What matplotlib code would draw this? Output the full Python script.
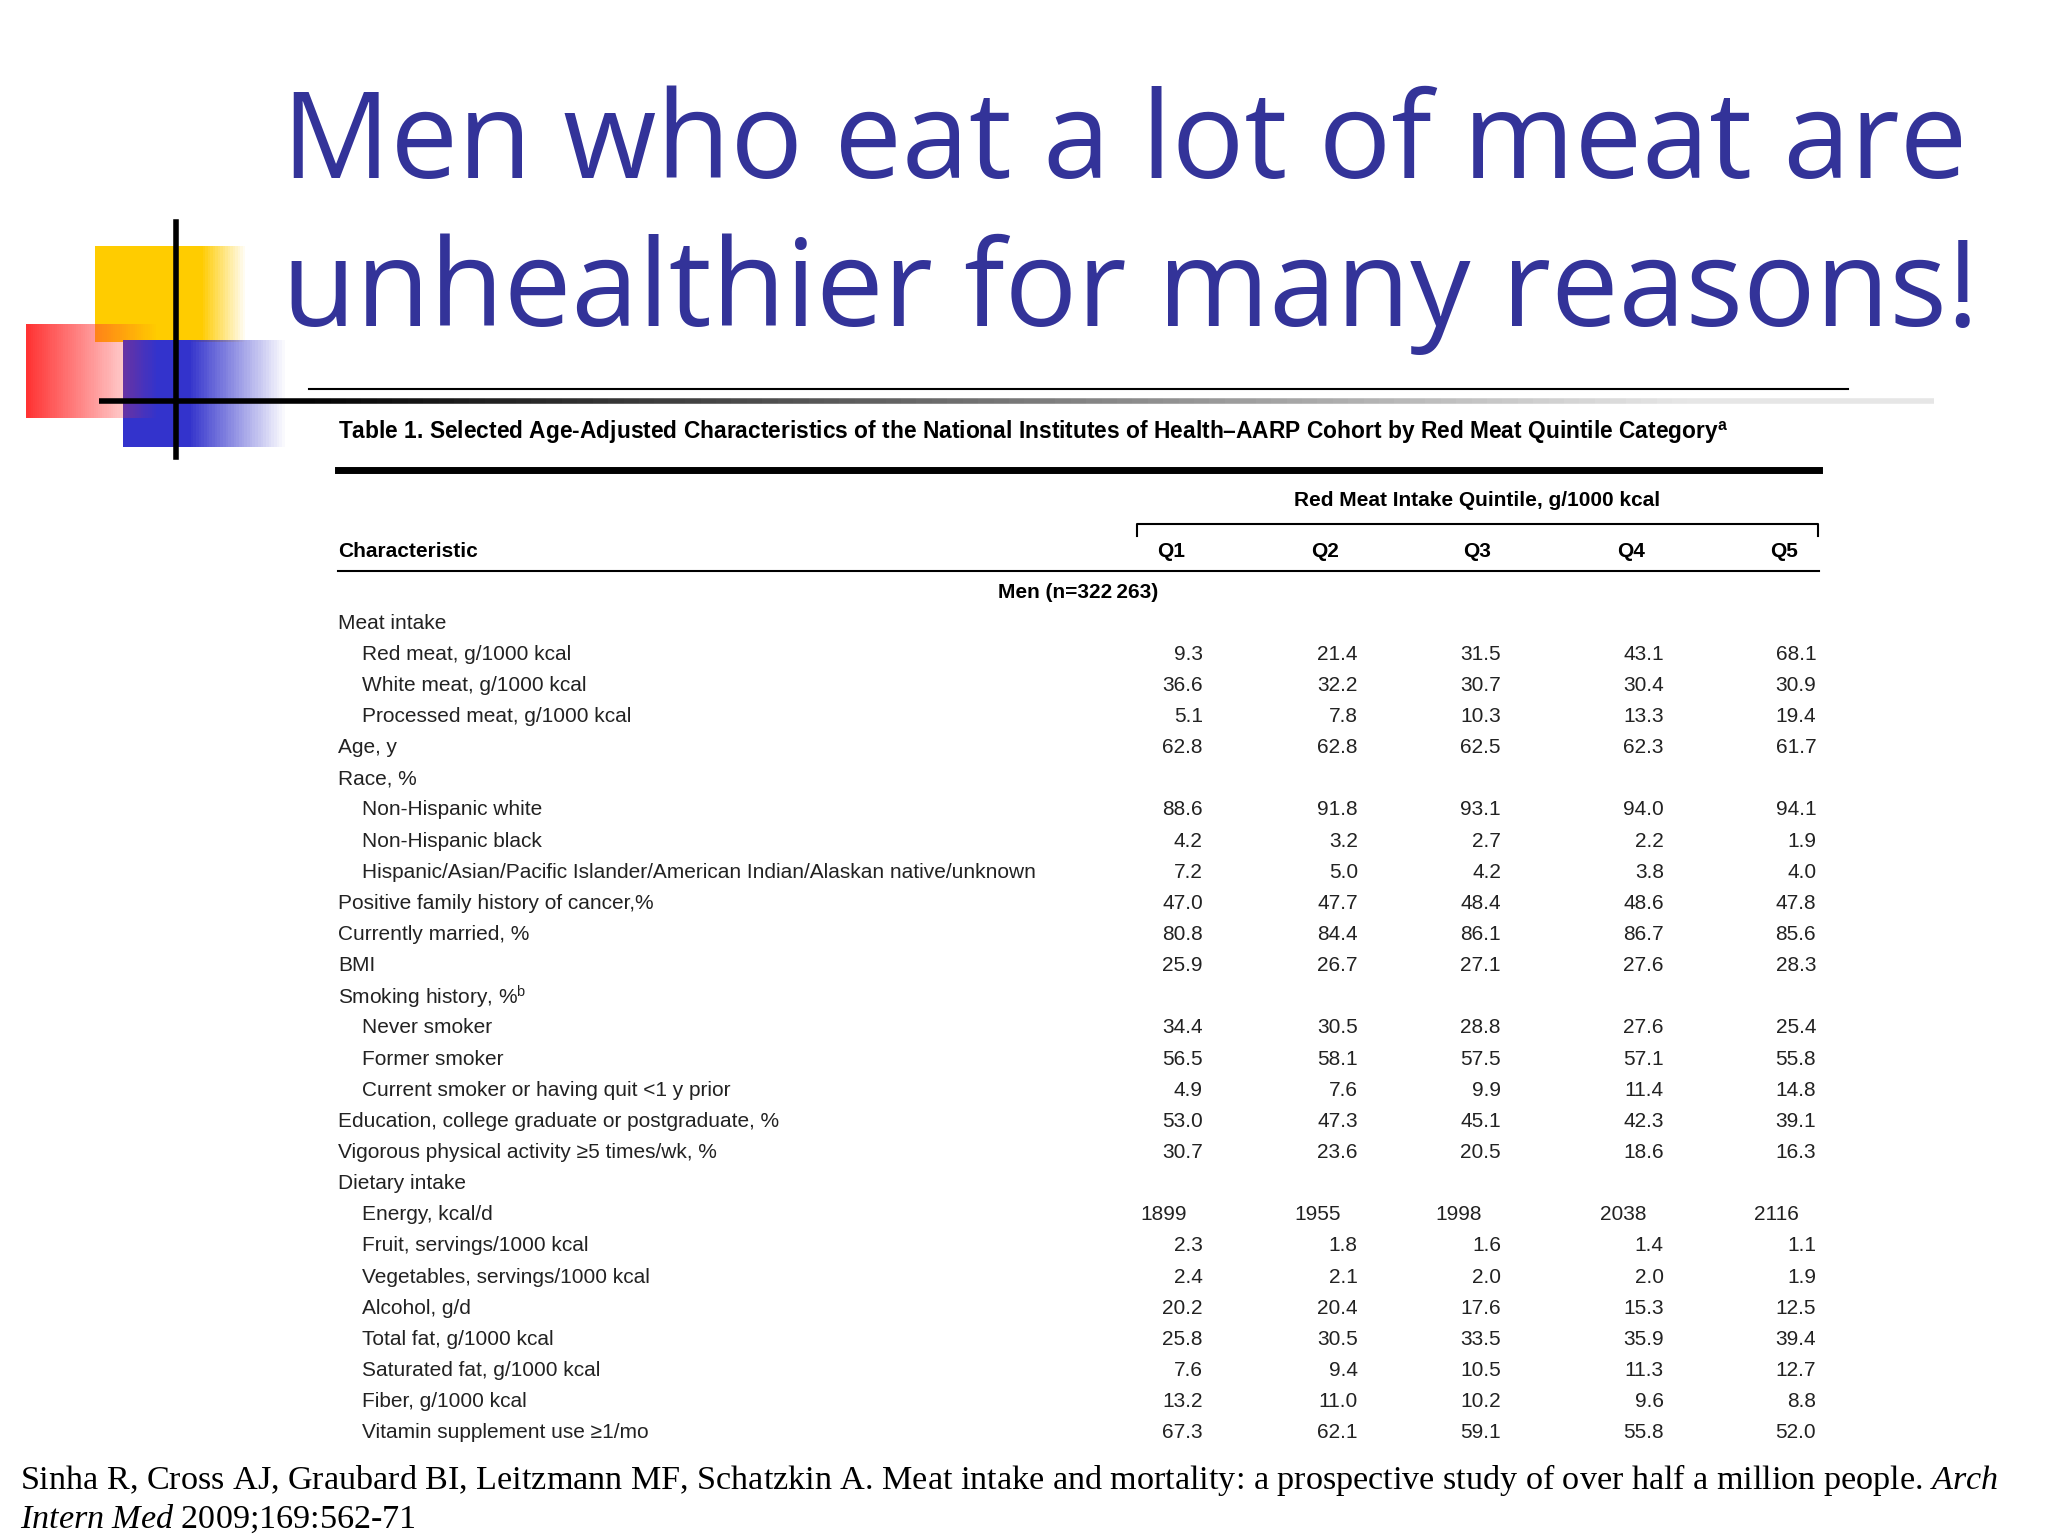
import matplotlib.pyplot as plt
import numpy as np
from matplotlib.patches import Rectangle

# data
row_labels = ['Meat intake', 'Red meat, g/1000 kcal', 'White meat, g/1000 kcal', 'Processed meat, g/1000 kcal',
              'Age, y', 'Race, %', 'Non-Hispanic white', 'Non-Hispanic black',
              'Hispanic/Asian/Pacific Islander/American Indian/Alaskan native/unknown',
              'Positive family history of cancer,%', 'Currently married, %', 'BMI', r'Smoking history, %$^{\mathregular{b}}$',
              'Never smoker', 'Former smoker', 'Current smoker or having quit <1 y prior',
              'Education, college graduate or postgraduate, %', 'Vigorous physical activity \u22655 times/wk, %',
              'Dietary intake', 'Energy, kcal/d', 'Fruit, servings/1000 kcal', 'Vegetables, servings/1000 kcal',
              'Alcohol, g/d', 'Total fat, g/1000 kcal', 'Saturated fat, g/1000 kcal', 'Fiber, g/1000 kcal',
              'Vitamin supplement use \u22651/mo']
row_indent = [0, 1, 1, 1, 0, 0, 1, 1, 1, 0, 0, 0, 0, 1, 1, 1, 0, 0, 0, 1, 1, 1, 1, 1, 1, 1, 1]
q1 = ['', '9.3', '36.6', '5.1', '62.8', '', '88.6', '4.2', '7.2', '47.0', '80.8', '25.9', '', '34.4', '56.5', '4.9',
      '53.0', '30.7', '', '1899', '2.3', '2.4', '20.2', '25.8', '7.6', '13.2', '67.3']
q2 = ['', '21.4', '32.2', '7.8', '62.8', '', '91.8', '3.2', '5.0', '47.7', '84.4', '26.7', '', '30.5', '58.1', '7.6',
      '47.3', '23.6', '', '1955', '1.8', '2.1', '20.4', '30.5', '9.4', '11.0', '62.1']
q3 = ['', '31.5', '30.7', '10.3', '62.5', '', '93.1', '2.7', '4.2', '48.4', '86.1', '27.1', '', '28.8', '57.5', '9.9',
      '45.1', '20.5', '', '1998', '1.6', '2.0', '17.6', '33.5', '10.5', '10.2', '59.1']
q4 = ['', '43.1', '30.4', '13.3', '62.3', '', '94.0', '2.2', '3.8', '48.6', '86.7', '27.6', '', '27.6', '57.1', '11.4',
      '42.3', '18.6', '', '2038', '1.4', '2.0', '15.3', '35.9', '11.3', '9.6', '55.8']
q5 = ['', '68.1', '30.9', '19.4', '61.7', '', '94.1', '1.9', '4.0', '47.8', '85.6', '28.3', '', '25.4', '55.8', '14.8',
      '39.1', '16.3', '', '2116', '1.1', '1.9', '12.5', '39.4', '12.7', '8.8', '52.0']
quintiles = ['Q1', 'Q2', 'Q3', 'Q4', 'Q5']

plt.rcParams['mathtext.fontset'] = 'custom'
plt.rcParams['mathtext.it'] = 'Liberation Serif:italic'
plt.rcParams['mathtext.rm'] = 'Liberation Sans'

W, H = 1546, 1176
K = 2048 / W * 0.72


def fs(px):
    return px * K


fig = plt.figure(figsize=(20.48, 15.36), dpi=100)
ax = fig.add_axes([0, 0, 1, 1])
ax.set_xlim(0, W)
ax.set_ylim(H, 0)
ax.axis('off')

blue = '#333399'
cond = ['Liberation Sans', 'DejaVu Sans']
ink = '#222222'


# decoration
def grad_rect(x0, x1, y0, y1, color, fade_from):
    n = 60
    xs = np.linspace(x0, x1, n + 1)
    for i in range(n):
        t = i / n
        a = 1.0 if t < fade_from else max(0, 1 - (t - fade_from) / (1 - fade_from))
        ax.add_patch(Rectangle((xs[i], y0), xs[i + 1] - xs[i], y1 - y0, color=color, alpha=a, lw=0))

grad_rect(72, 185, 188, 262, '#ffcc00', 0.7)
grad_rect(93, 215, 260, 342, '#3333cc', 0.4)
grad_rect(20, 118, 248, 320, '#ff3333', 0.0)
ax.plot([133, 133], [170, 350], color='black', lw=4)
xs = np.linspace(75, 1460, 120)
for i in range(len(xs) - 1):
    t = i / len(xs)
    c = 0.0 if t < 0.1 else min(0.9, (t - 0.1) * 1.2)
    ax.plot([xs[i], xs[i + 1]], [307, 307], color=(c, c, c), lw=4, solid_capstyle='butt')
ax.plot([233, 1395], [298, 298], color='black', lw=1.5)

# title
for y, line in [(112, 'Men who eat a lot of meat are'), (225, 'unhealthier for many reasons!')]:
    ax.text(213, y, line, color=blue, fontsize=fs(91), va='center', ha='left', family=['Open Sans', 'DejaVu Sans'])

# table
ax.text(255, 330, 'Table 1. Selected Age-Adjusted Characteristics of the National Institutes of Health\u2013AARP Cohort by Red Meat Quintile Category$^{\\mathregular{a}}$',
        fontsize=fs(17.2), fontweight='bold', va='center', family=cond)
ax.plot([255, 1373], [360, 360], color='black', lw=5)
ax.text(1115, 383, 'Red Meat Intake Quintile, g/1000 kcal', fontsize=fs(15.8), fontweight='bold', va='center',
        ha='center', family=cond)
ax.plot([858, 858, 1372, 1372], [410, 401, 401, 410], color='black', lw=1.5)
ax.text(255, 422, 'Characteristic', fontsize=fs(15.8), fontweight='bold', va='center', family=cond)
q_x = [884, 1000, 1115, 1231, 1347]
for x, q in zip(q_x, quintiles):
    ax.text(x, 422, q, fontsize=fs(15.8), fontweight='bold', va='center', ha='center', family=cond)
ax.plot([255, 1373], [437, 437], color='black', lw=1.5)
ax.text(814, 454, 'Men (n=322\u2009263)', fontsize=fs(15.8), fontweight='bold', va='center', ha='center', family=cond)

y0, dy = 477, (1097 - 477) / 26
val_x = [908, 1025, 1133, 1256, 1371]
energy_x = [896, 1012, 1119, 1243, 1358]
cols = [q1, q2, q3, q4, q5]
for i, (lab, ind) in enumerate(zip(row_labels, row_indent)):
    y = y0 + i * dy
    ax.text(255 + 18 * ind, y, lab, fontsize=fs(15.8), va='center', family=cond, color=ink)
    for j, col in enumerate(cols):
        if col[i]:
            x = energy_x[j] if lab.startswith('Energy') else val_x[j]
            ax.text(x, y, col[i], fontsize=fs(15.8), va='center', ha='right', family=cond, color=ink)

# citation
ax.text(15, 1133, 'Sinha R, Cross AJ, Graubard BI, Leitzmann MF, Schatzkin A. Meat intake and mortality: a prospective study of over half a million people. $\\it{Arch}$',
        fontsize=fs(25.8), va='center', family='Liberation Serif')
ax.text(15, 1163, '$\\it{Intern\\ Med}$ 2009;169:562-71', fontsize=fs(25.8), va='center', family='Liberation Serif')

fig.savefig('out.png', dpi=100)
